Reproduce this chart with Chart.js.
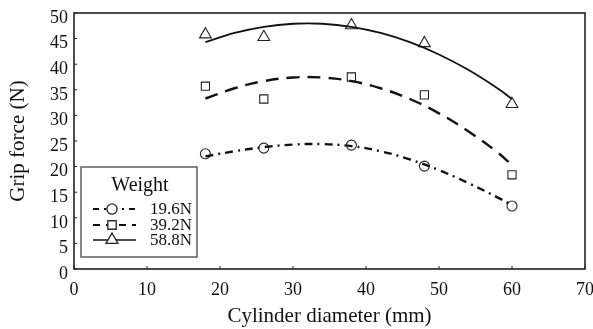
<!DOCTYPE html>
<html lang="en">
<head>
  <meta charset="UTF-8" />
  <title>Grip force vs cylinder diameter</title>
  <script src="https://cdn.jsdelivr.net/npm/chart.js"></script>
  <style>
    body { margin: 0; background: #fff; }
    canvas { display: block; }
  </style>
</head>
<body>
  <canvas id="gripChart" width="593" height="329"></canvas>

  <script>
    // measured points (cylinder diameter in mm)
    const diameters = [18, 26, 38, 48, 60];
    const grip196 = [22.5, 23.6, 24.2, 20.1, 12.3];
    const grip392 = [35.7, 33.2, 37.5, 34.0, 18.4];
    const grip588 = [45.8, 45.3, 47.6, 44.1, 32.2];

    // fitted curves
    const curveX = [18, 22, 26, 30, 34, 38, 42, 46, 50, 54, 58, 60];
    const fit196 = [22.0, 23.0, 23.8, 24.3, 24.4, 24.0, 23.0, 21.4, 19.3, 16.8, 14.0, 12.5];
    const fit392 = [33.3, 35.3, 36.7, 37.4, 37.4, 36.7, 35.3, 33.2, 30.4, 26.9, 22.8, 20.3];
    const fit588 = [44.3, 46.1, 47.3, 47.9, 47.9, 47.3, 46.1, 44.3, 41.9, 38.9, 35.3, 33.2];

    const weightLabels = ['19.6N', '39.2N', '58.8N'];
    const xTicks = [0, 10, 20, 30, 40, 50, 60, 70];
    const yTicks = [0, 5, 10, 15, 20, 25, 30, 35, 40, 45, 50];

    const serif = '"Liberation Serif", "Times New Roman", serif';
    const ink = '#111';
    const styles = [
      { dash: [8, 5, 2, 5], legendDash: [6, 5, 2, 5], marker: 'circle', radius: 5 },
      { dash: [13, 8], legendDash: [7, 6], marker: 'rect', radius: 5.8 },
      { dash: [], legendDash: [], marker: 'triangle', radius: 6.8 }
    ];

    const pts = (xs, ys) => xs.map((x, i) => ({ x, y: ys[i] }));

    function curveSet(ys, st) {
      return {
        data: pts(curveX, ys),
        showLine: true,
        borderColor: ink,
        borderWidth: st.dash.length ? 2.4 : 1.8,
        borderDash: st.dash,
        pointRadius: 0,
        tension: 0.4,
        fill: false
      };
    }

    function markerSet(ys, st) {
      return {
        data: pts(diameters, ys),
        showLine: false,
        pointStyle: st.marker,
        pointRadius: st.radius,
        pointBackgroundColor: '#fff',
        pointBorderColor: '#222',
        pointBorderWidth: 1.1
      };
    }

    // frame, inner ticks and the boxed legend
    const framePlugin = {
      id: 'frame',
      afterDraw(chart) {
        const { ctx, chartArea: a, scales } = chart;
        ctx.save();
        ctx.strokeStyle = '#222';
        ctx.lineWidth = 1.6;
        ctx.strokeRect(a.left, a.top, a.right - a.left, a.bottom - a.top);

        ctx.lineWidth = 1;
        xTicks.forEach(v => {
          const px = scales.x.getPixelForValue(v);
          ctx.beginPath(); ctx.moveTo(px, a.bottom); ctx.lineTo(px, a.bottom - 3); ctx.stroke();
        });
        yTicks.forEach(v => {
          const py = scales.y.getPixelForValue(v);
          ctx.beginPath(); ctx.moveTo(a.left, py); ctx.lineTo(a.left + 3, py); ctx.stroke();
        });

        // legend
        const bx = 81, by = 167, bw = 116, bh = 90;
        ctx.fillStyle = '#fff';
        ctx.fillRect(bx, by, bw, bh);
        ctx.strokeStyle = '#555';
        ctx.lineWidth = 1.4;
        ctx.strokeRect(bx, by, bw, bh);

        ctx.fillStyle = ink;
        ctx.font = '20px ' + serif;
        ctx.textAlign = 'center';
        ctx.textBaseline = 'middle';
        ctx.fillText('Weight', 140, 186);

        const rows = [209, 225, 240];
        ctx.font = '17px ' + serif;
        ctx.textAlign = 'right';
        styles.forEach((st, i) => {
          const y = rows[i];
          ctx.strokeStyle = ink;
          ctx.lineWidth = st.dash.length ? 2.2 : 1.4;
          ctx.setLineDash(st.legendDash);
          ctx.beginPath(); ctx.moveTo(93, y); ctx.lineTo(136, y); ctx.stroke();
          ctx.setLineDash([]);
          ctx.lineWidth = 1.1;
          ctx.strokeStyle = '#222';
          ctx.fillStyle = '#fff';
          Chart.helpers.drawPoint(ctx, { pointStyle: st.marker, radius: st.radius, rotation: 0, borderWidth: 1.1 }, 112, y);
          ctx.fill(); ctx.stroke();
          ctx.fillStyle = ink;
          ctx.fillText(weightLabels[i], 192, y + 1);
        });
        ctx.restore();
      }
    };

    const ctx = document.getElementById('gripChart').getContext('2d');

    new Chart(ctx, {
      type: 'scatter',
      data: {
        datasets: [
          curveSet(fit196, styles[0]),
          curveSet(fit392, styles[1]),
          curveSet(fit588, styles[2]),
          markerSet(grip196, styles[0]),
          markerSet(grip392, styles[1]),
          markerSet(grip588, styles[2])
        ]
      },
      options: {
        responsive: false,
        animation: false,
        layout: { padding: { top: 13, right: 8, left: 0, bottom: 0 } },
        plugins: { legend: { display: false }, tooltip: { enabled: false } },
        scales: {
          x: {
            min: 0, max: 70,
            afterFit: s => { s.height = 60; s.paddingLeft = 0; s.paddingRight = 0; },
            afterBuildTicks: s => { s.ticks = xTicks.map(v => ({ value: v })); },
            grid: { display: false, drawTicks: false },
            border: { display: false },
            ticks: { color: ink, padding: 10, font: { family: serif, size: 18 }, maxRotation: 0 },
            title: {
              display: true, text: 'Cylinder diameter (mm)', color: ink,
              font: { family: serif, size: 21 }, padding: { top: 0, bottom: 0 }
            }
          },
          y: {
            min: 0, max: 50,
            afterFit: s => { s.width = 74; s.paddingTop = 0; s.paddingBottom = 0; },
            afterBuildTicks: s => { s.ticks = yTicks.map(v => ({ value: v })); },
            grid: { display: false, drawTicks: false },
            border: { display: false },
            ticks: { color: ink, padding: 6, labelOffset: 5, font: { family: serif, size: 18 } },
            title: {
              display: true, text: 'Grip force (N)', color: ink,
              font: { family: serif, size: 21 }, padding: { top: 6, bottom: 0 }
            }
          }
        }
      },
      plugins: [framePlugin]
    });
  </script>
</body>
</html>
